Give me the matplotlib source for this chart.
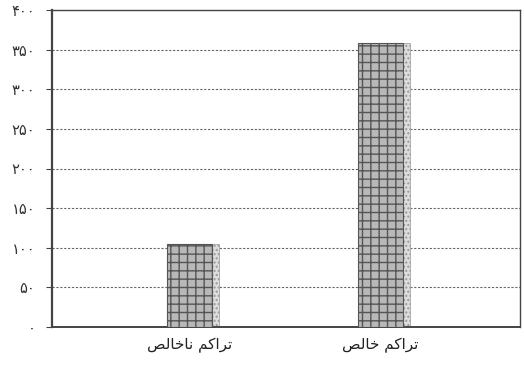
import matplotlib
matplotlib.use("Agg")
import matplotlib.pyplot as plt

# Data
categories = ["تراکم ناخالص", "تراکم خالص"]
# Visually-ordered, pre-shaped forms of the category labels (for rendering without a shaping engine)
category_labels = [
    "\uFEBA\uFEDF\uFE8E\uFEA7\uFE8E\uFEE7 \uFEE2\uFB90\uFE8D\uFEAE\uFE97",
    "\uFEBA\uFEDF\uFE8E\uFEA7 \uFEE2\uFB90\uFE8D\uFEAE\uFE97",
]
values = [105, 358]
y_ticks = [0, 50, 100, 150, 200, 250, 300, 350, 400]
y_tick_labels = ["۰", "۵۰", "۱۰۰", "۱۵۰", "۲۰۰", "۲۵۰", "۳۰۰", "۳۵۰", "۴۰۰"]

plt.rcParams['font.family'] = ['DejaVu Sans']
plt.rcParams['hatch.color'] = '#505050'
plt.rcParams['hatch.linewidth'] = 1.0

fig = plt.figure(figsize=(5.24, 3.70), dpi=100)
ax = fig.add_axes([52 / 524, 1 - 327 / 370, 468 / 524, 317 / 370])

x = list(range(len(values)))
# side face for a slight 3-D look
ax.bar([xi + 0.135 for xi in x], values, width=0.04, color='#dddddd',
       edgecolor='#999999', linewidth=0.5, hatch='....', zorder=2)
ax.bar(x, values, width=0.24, color='#b8b8b8', edgecolor='#555555',
       linewidth=0.8, hatch='++', zorder=3)

ax.set_xlim(-0.72, 1.73)
ax.set_ylim(0, 400)
ax.set_yticks(y_ticks)
ax.set_yticklabels(y_tick_labels, fontsize=10.5, color='#333333')
ax.set_xticks(x)
ax.set_xticklabels(category_labels, fontsize=11, color='#222222')
ax.tick_params(axis='x', length=0, pad=8)
ax.tick_params(axis='y', length=4, direction='out', color='#444444', pad=8)

ax.yaxis.grid(True, linestyle=(0, (2, 1.5)), color='#666666', linewidth=0.8)
ax.set_axisbelow(True)
for s in ax.spines.values():
    s.set_color('#444444')
    s.set_linewidth(1.0)
ax.spines['left'].set_linewidth(1.6)
ax.spines['bottom'].set_linewidth(1.4)

fig.savefig("out.png", dpi=100, facecolor='white')
